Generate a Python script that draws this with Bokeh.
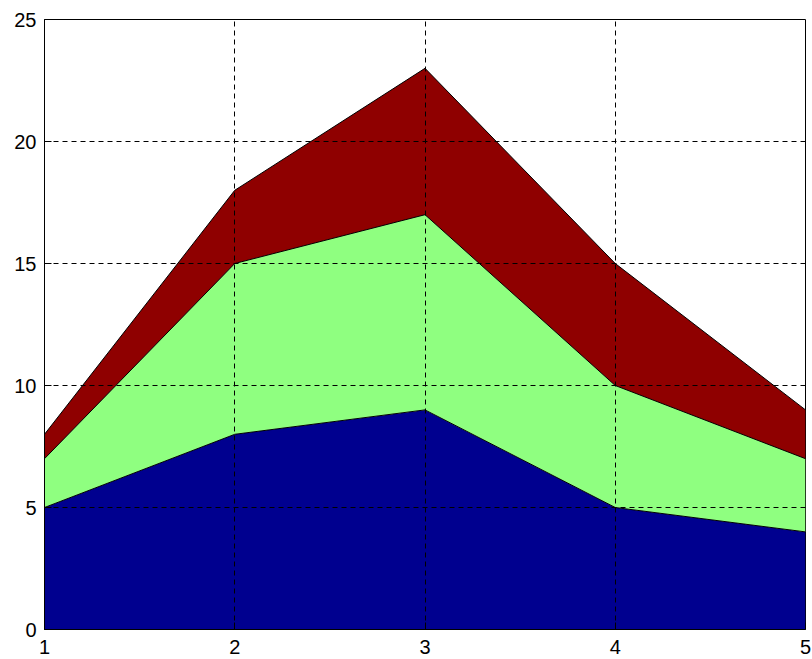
from bokeh.plotting import figure
from bokeh.models import ColumnDataSource, Range1d, FixedTicker
from bokeh.embed import file_html
from bokeh.resources import INLINE

x = [1, 2, 3, 4, 5]
series_a = [5, 8, 9, 5, 4]
series_b = [2, 7, 8, 5, 3]
series_c = [1, 3, 6, 5, 2]
colors = ["#00008F", "#8FFF80", "#8F0000"]
x_ticks = [1, 2, 3, 4, 5]
y_ticks = [0, 5, 10, 15, 20, 25]

source = ColumnDataSource(data=dict(x=x, a=series_a, b=series_b, c=series_c))

p = figure(width=812, height=659, output_backend="svg", toolbar_location=None,
           x_range=Range1d(1, 5), y_range=Range1d(0, 25),
           min_border_left=44, min_border_right=7, min_border_top=19, min_border_bottom=30)

p.varea_stack(stackers=["a", "b", "c"], x="x", color=colors, source=source)
p.vline_stack(stackers=["a", "b", "c"], x="x", color="black", line_width=1, source=source)

for ax in (p.xaxis[0], p.yaxis[0]):
    ax.major_label_text_font = "Liberation Sans"
    ax.major_label_text_font_size = "20px"
    ax.major_label_text_color = "black"
    ax.axis_line_color = "black"
    ax.major_tick_in = 7
    ax.major_tick_out = 0
    ax.minor_tick_line_color = None
    ax.major_tick_line_color = "black"
    ax.major_label_standoff = 8

p.xaxis[0].major_label_standoff = 10
p.xaxis[0].ticker = FixedTicker(ticks=x_ticks)
p.yaxis[0].ticker = FixedTicker(ticks=y_ticks)

for g in (p.xgrid[0], p.ygrid[0]):
    g.grid_line_color = "black"
    g.grid_line_dash = "5 4"
    g.grid_line_width = 1
    g.level = "overlay"

p.outline_line_color = "black"
p.outline_line_width = 1
p.background_fill_color = "white"
p.border_fill_color = "white"

open("out.html", "w").write(file_html(p, INLINE))
